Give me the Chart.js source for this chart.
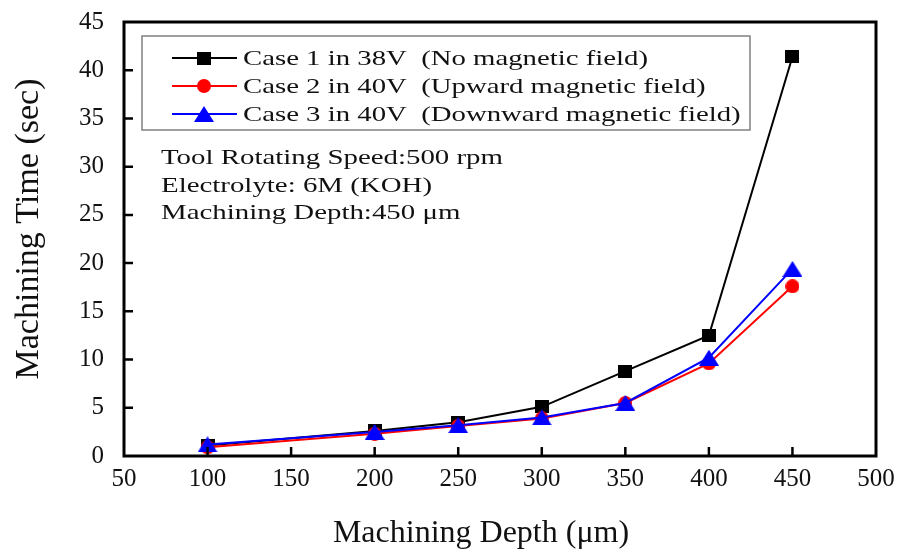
<!DOCTYPE html>
<html><head><meta charset="utf-8">
<script src="https://cdn.jsdelivr.net/npm/chart.js@4.4.0/dist/chart.umd.min.js"></script>
<style>html,body{margin:0;padding:0;background:#fff;}</style>
</head><body>
<canvas id="c" width="903" height="555" style="width:903px;height:555px;display:block"></canvas>
<script>
const depths = [100, 200, 250, 300, 350, 400, 450];
const case1 = [1.1, 2.6, 3.5, 5.1, 8.8, 12.5, 41.4];
const case2 = [0.9, 2.3, 3.1, 3.9, 5.5, 9.6, 17.6];
const case3 = [1.2, 2.5, 3.2, 4.0, 5.5, 10.2, 19.4];
const seriesLabels = ['Case 1 in 38V  (No magnetic field)', 'Case 2 in 40V  (Upward magnetic field)', 'Case 3 in 40V  (Downward magnetic field)'];
const notes = ['Tool Rotating Speed:500 rpm', 'Electrolyte: 6M (KOH)', 'Machining Depth:450 \u03bcm'];
const xTitle = 'Machining Depth (\u03bcm)';
const yTitle = 'Machining Time (sec)';
const xRange = [50, 500], xStep = 50;
const yRange = [0, 45], yStep = 5;

const FONT = '"Liberation Serif", "Times New Roman", serif';
const colors = ['#000000', '#ff0000', '#0000ff'];
const AREA = { top: 22, bottom: 456, left: 124, right: 876 };

function makeMarker(kind, color) {
  const c = document.createElement('canvas');
  let w, h;
  if (kind === 'rect') { w = 14; h = 13; }
  else if (kind === 'circle') { w = 14; h = 14; }
  else { w = 20; h = 16; }
  c.width = w; c.height = h;
  const g = c.getContext('2d');
  g.fillStyle = color;
  g.beginPath();
  if (kind === 'rect') g.rect(0, 0, w, h);
  else if (kind === 'circle') g.ellipse(w / 2, h / 2, w / 2, h / 2, 0, 0, Math.PI * 2);
  else { g.moveTo(w / 2, 0); g.lineTo(w, h); g.lineTo(0, h); g.closePath(); }
  g.fill();
  return c;
}
const markers = [makeMarker('rect', colors[0]), makeMarker('circle', colors[1]), makeMarker('tri', colors[2])];

function stretchedText(ctx, text, x, y, targetW) {
  const w = ctx.measureText(text).width;
  const s = targetW / w;
  ctx.save();
  ctx.translate(x, y);
  ctx.scale(s, 1);
  ctx.fillText(text, 0, 0);
  ctx.restore();
}

const decor = {
  id: 'decor',
  afterDraw(chart) {
    const ctx = chart.ctx, a = chart.chartArea;
    const xs = chart.scales.x, ys = chart.scales.y;
    ctx.save();
    ctx.strokeStyle = '#000';
    ctx.lineWidth = 2.5;
    ctx.beginPath();
    xs.ticks.forEach(t => {
      if (t.value <= xRange[0] || t.value >= xRange[1]) return;
      const px = xs.getPixelForValue(t.value);
      ctx.moveTo(px, a.bottom);
      ctx.lineTo(px, a.bottom - 9);
    });
    ys.ticks.forEach(t => {
      if (t.value <= yRange[0] || t.value >= yRange[1]) return;
      const py = ys.getPixelForValue(t.value);
      ctx.moveTo(a.left, py);
      ctx.lineTo(a.left + 9, py);
    });
    ctx.stroke();
    ctx.lineWidth = 3;
    ctx.strokeRect(a.left, a.top, a.right - a.left, a.bottom - a.top);
    // x title (slightly left of the plot centre, as in the figure)
    ctx.fillStyle = '#111';
    ctx.font = '32px ' + FONT;
    ctx.textBaseline = 'middle';
    ctx.textAlign = 'center';
    ctx.fillText(xTitle, 481, 534);
    // y title
    ctx.save();
    ctx.translate(29, 229);
    ctx.rotate(-Math.PI / 2);
    ctx.font = '34px ' + FONT;
    ctx.fillText(yTitle, 0, 0);
    ctx.restore();
    ctx.textAlign = 'left';
    // legend
    const lx = 142, ly = 36, lw = 608, lh = 94;
    ctx.lineWidth = 1.5;
    ctx.strokeStyle = '#808080';
    ctx.strokeRect(lx, ly, lw, lh);
    ctx.font = '21px ' + FONT;
    const rowY = [58, 86, 114];
    const s0 = 405 / ctx.measureText(seriesLabels[0]).width;
    seriesLabels.forEach((lab, i) => {
      const y = rowY[i];
      ctx.strokeStyle = colors[i];
      ctx.lineWidth = 2;
      ctx.beginPath();
      ctx.moveTo(172, y);
      ctx.lineTo(237, y);
      ctx.stroke();
      const m = markers[i];
      ctx.drawImage(m, 204 - m.width / 2, y - m.height / 2);
      ctx.fillStyle = '#111';
      stretchedText(ctx, lab, 243, y + 1, ctx.measureText(lab).width * s0);
    });
    // notes
    ctx.font = '22px ' + FONT;
    const noteY = [157, 185, 212];
    const s1 = 342 / ctx.measureText(notes[0]).width;
    notes.forEach((n, i) => stretchedText(ctx, n, 161, noteY[i] + 1, ctx.measureText(n).width * s1));
    ctx.restore();
  }
};

function mk(vals) { return depths.map((d, i) => ({ x: d, y: vals[i] })); }

const chart = new Chart(document.getElementById('c'), {
  type: 'line',
  data: {
    datasets: [case1, case2, case3].map((v, i) => ({
      label: seriesLabels[i],
      data: mk(v),
      borderColor: colors[i],
      backgroundColor: colors[i],
      pointStyle: markers[i],
      pointRadius: 8,
      borderWidth: 2,
      tension: 0,
      order: 3 - i
    }))
  },
  options: {
    responsive: false,
    animation: false,
    devicePixelRatio: 1,
    layout: { padding: { top: 22, right: 27, left: 0, bottom: 0 } },
    plugins: { legend: { display: false }, tooltip: { enabled: false } },
    scales: {
      x: {
        type: 'linear', min: xRange[0], max: xRange[1],
        ticks: { stepSize: xStep, color: '#111', font: { family: FONT, size: 25 }, padding: 1, maxRotation: 0 },
        grid: { display: false, drawTicks: true, tickLength: 7 },
        border: { display: false },
        title: { display: false, text: xTitle },
        afterFit(s) { s.height = 99; }
      },
      y: {
        min: yRange[0], max: yRange[1],
        ticks: { stepSize: yStep, color: '#111', font: { family: FONT, size: 25 }, padding: 1 },
        grid: { display: false, drawTicks: true, tickLength: 19 },
        border: { display: false },
        title: { display: false, text: yTitle },
        afterFit(s) { s.width = 124; }
      }
    }
  },
  plugins: [decor]
});
// nudge the layout padding so the plot frame lands where the figure has it
for (let k = 0; k < 3; k++) {
  const ca = chart.chartArea, p = chart.options.layout.padding;
  const dt = ca.top - AREA.top, db = AREA.bottom - ca.bottom, dr = AREA.right - ca.right;
  if (Math.abs(dt) < 0.5 && Math.abs(db) < 0.5 && Math.abs(dr) < 0.5) break;
  p.top -= dt; p.bottom -= db; p.right -= dr;
  chart.update();
}
</script>
</body></html>
